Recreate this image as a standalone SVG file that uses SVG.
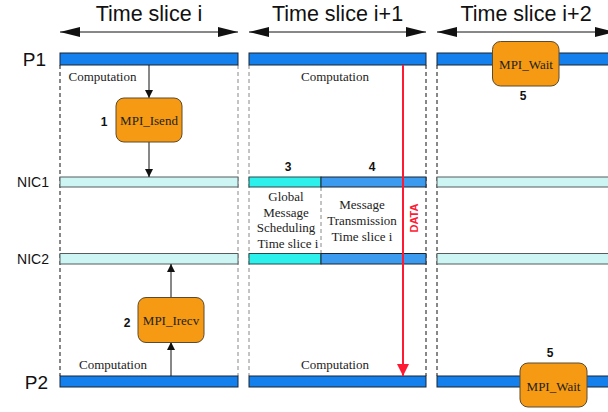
<svg xmlns="http://www.w3.org/2000/svg" width="608" height="412" viewBox="0 0 608 412">
<style>
.hdr{font-family:"Liberation Sans",Arial,sans-serif;font-size:21.5px;fill:#111;text-anchor:middle}
.row{font-family:"Liberation Sans",Arial,sans-serif;font-size:19px;fill:#111;text-anchor:end}
.rowsm{font-family:"Liberation Sans",Arial,sans-serif;font-size:14px;fill:#111;text-anchor:end}
.ser{font-family:"Liberation Serif","Times New Roman",serif;font-size:13px;fill:#222;text-anchor:middle}
.num{font-family:"Liberation Sans",Arial,sans-serif;font-size:12px;font-weight:bold;fill:#111;text-anchor:middle}
.bar{fill:#1380EE;stroke:#1a2533;stroke-width:1}
.nic{fill:#CDF5F3;stroke:#555c5c;stroke-width:1}
.cy{fill:#2CF0EC;stroke:#2a4a4a;stroke-width:1}
.bl{fill:#3C9BEE;stroke:#1a2533;stroke-width:1}
.box{fill:#F59A12;stroke:#5a4a30;stroke-width:1}
.dk{stroke:#111;stroke-width:1;stroke-dasharray:4,3;fill:none}
.dg{stroke:#888;stroke-width:1;stroke-dasharray:4,3;fill:none}
.ln{stroke:#111;stroke-width:1;fill:none}
</style>
<defs>
<marker id="ah" viewBox="0 0 8 8" refX="8" refY="4" markerWidth="8" markerHeight="8" markerUnits="userSpaceOnUse" orient="auto">
<path d="M0,0 L8,4 L0,8 z" fill="#111"/>
</marker>
<marker id="big" viewBox="0 0 20 10" refX="20" refY="5" markerWidth="20" markerHeight="10" markerUnits="userSpaceOnUse" orient="auto-start-reverse">
<path d="M0,0 L20,5 L0,10 z" fill="#111"/>
</marker>
<marker id="red" viewBox="0 0 12 12" refX="12" refY="6" markerWidth="12" markerHeight="12" markerUnits="userSpaceOnUse" orient="auto">
<path d="M0,0 L12,6 L0,12 z" fill="#FF1A33"/>
</marker>
</defs>

<g id="headers">
<text class="hdr" x="149" y="21">Time slice i</text>
<text class="hdr" x="337.5" y="21">Time slice i+1</text>
<text class="hdr" x="526" y="21">Time slice i+2</text>
<line class="ln" x1="60" y1="32" x2="238" y2="32" marker-start="url(#big)" marker-end="url(#big)"/>
<line class="ln" x1="249" y1="32" x2="426" y2="32" marker-start="url(#big)" marker-end="url(#big)"/>
<line class="ln" x1="437" y1="32" x2="615" y2="32" marker-start="url(#big)" marker-end="url(#big)"/>
</g>

<g id="guides">
<line class="dk" x1="60" y1="65" x2="60" y2="376"/>
<line class="dg" x1="238" y1="65" x2="238" y2="376"/>
<line class="dg" x1="249" y1="65" x2="249" y2="376"/>
<line class="dk" x1="426" y1="65" x2="426" y2="376"/>
<line class="dk" x1="437" y1="65" x2="437" y2="376"/>
<line class="dg" x1="321" y1="187" x2="321" y2="253"/>
</g>

<g id="labels">
<text class="row" x="46" y="66">P1</text>
<text class="rowsm" x="49" y="187">NIC1</text>
<text class="rowsm" x="49" y="264">NIC2</text>
<text class="row" x="48" y="389">P2</text>
</g>

<g id="P1">
<rect class="bar" x="60" y="53" width="178" height="12"/>
<rect class="bar" x="249" y="53" width="177" height="12"/>
<rect class="bar" x="437" y="53" width="180" height="12"/>
<text class="ser" x="102.5" y="81">Computation</text>
<text class="ser" x="335" y="81">Computation</text>
</g>

<g id="NIC1">
<rect class="nic" x="60" y="177" width="178" height="10"/>
<rect class="cy" x="249" y="177" width="72" height="10"/>
<rect class="bl" x="321" y="177" width="105" height="10"/>
<rect class="nic" x="437" y="177" width="180" height="10"/>
<text class="num" x="288" y="171">3</text>
<text class="num" x="372" y="171">4</text>
</g>

<g id="NIC2">
<rect class="nic" x="60" y="253.5" width="178" height="10.5"/>
<rect class="cy" x="249" y="253.5" width="72" height="10.5"/>
<rect class="bl" x="321" y="253.5" width="105" height="10.5"/>
<rect class="nic" x="437" y="253.5" width="180" height="10.5"/>
</g>

<g id="P2">
<rect class="bar" x="60" y="376" width="178" height="11"/>
<rect class="bar" x="249" y="376" width="177" height="11"/>
<rect class="bar" x="437" y="376" width="180" height="11"/>
<text class="ser" x="113" y="369">Computation</text>
<text class="ser" x="335" y="369">Computation</text>
</g>

<g id="sched">
<text class="ser" x="286" y="201">Global</text>
<text class="ser" x="286" y="217">Message</text>
<text class="ser" x="286" y="232">Scheduling</text>
<text class="ser" x="288" y="248">Time slice i</text>
</g>

<g id="transmission">
<text class="ser" x="362" y="209">Message</text>
<text class="ser" x="362" y="225">Transmission</text>
<text class="ser" x="362" y="241">Time slice i</text>
</g>

<g id="connectors">
<line class="ln" x1="149" y1="65" x2="149" y2="98" marker-end="url(#ah)"/>
<line class="ln" x1="149" y1="142" x2="149" y2="177" marker-end="url(#ah)"/>
<line class="ln" x1="171" y1="376" x2="171" y2="342" marker-end="url(#ah)"/>
<line class="ln" x1="171" y1="297" x2="171" y2="264" marker-end="url(#ah)"/>
<line x1="403" y1="65" x2="403" y2="376" stroke="#FF1A33" stroke-width="2" marker-end="url(#red)"/>
<text x="418" y="218" transform="rotate(-90 418 218)" font-family="'Liberation Sans',Arial,sans-serif" font-size="11" font-weight="bold" fill="#FF1A33" text-anchor="middle">DATA</text>
</g>

<g id="isend">
<rect class="box" x="116" y="98" width="66" height="44" rx="8"/>
<text class="ser" x="149" y="125">MPI_Isend</text>
<text class="num" x="104" y="126">1</text>
</g>

<g id="irecv">
<rect class="box" x="138" y="297.5" width="66" height="45" rx="8"/>
<text class="ser" x="171" y="325">MPI_Irecv</text>
<text class="num" x="127" y="327">2</text>
</g>

<g id="wait1">
<rect class="box" x="492.5" y="41.5" width="66.5" height="44.5" rx="8"/>
<text class="ser" x="526" y="69">MPI_Wait</text>
<text class="num" x="523" y="100">5</text>
</g>

<g id="wait2">
<rect class="box" x="520" y="363" width="67" height="44" rx="8"/>
<text class="ser" x="553.5" y="391">MPI_Wait</text>
<text class="num" x="550" y="357">5</text>
</g>
</svg>
